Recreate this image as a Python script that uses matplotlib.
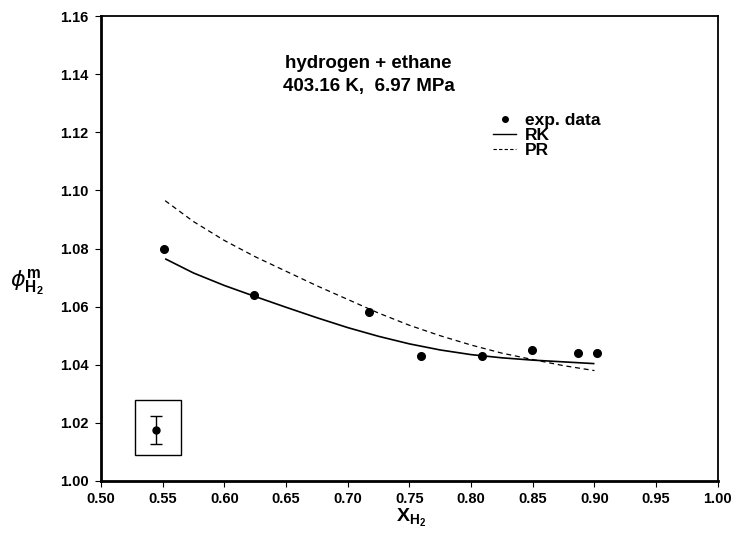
import numpy as np
import matplotlib
matplotlib.use("Agg")
import matplotlib.pyplot as plt
from matplotlib.lines import Line2D
from matplotlib.patches import Rectangle

x_exp = [0.551, 0.624, 0.717, 0.759, 0.809, 0.849, 0.887, 0.902]
phi_exp = [1.080, 1.064, 1.058, 1.043, 1.043, 1.045, 1.044, 1.044]

# Redlich-Kwong curve
x_rk = [0.552, 0.575, 0.600, 0.625, 0.650, 0.675, 0.700, 0.725,
        0.750, 0.775, 0.800, 0.825, 0.850, 0.875, 0.900]
phi_rk = [1.0765, 1.0716, 1.0673, 1.0635, 1.0598, 1.0562, 1.0528, 1.0498,
          1.0472, 1.0451, 1.0435, 1.0424, 1.0416, 1.0410, 1.0404]

# Peng-Robinson curve
x_pr = [0.552, 0.575, 0.600, 0.625, 0.650, 0.675, 0.700, 0.725,
        0.750, 0.775, 0.800, 0.825, 0.850, 0.875, 0.900]
phi_pr = [1.0965, 1.0893, 1.0828, 1.0772, 1.0722, 1.0672, 1.0625, 1.0578,
          1.0536, 1.0500, 1.0468, 1.0440, 1.0418, 1.0397, 1.0380]

# typical uncertainty shown in the inset box
err_x = 0.5446
err_y = 1.0177
err_half = 0.0048

xticks = np.arange(0.50, 1.001, 0.05)
yticks = np.arange(1.00, 1.161, 0.02)

plt.rcParams['font.family'] = ['Liberation Sans', 'DejaVu Sans']
plt.rcParams['mathtext.fontset'] = 'custom'
plt.rcParams['mathtext.rm'] = 'Liberation Sans'
plt.rcParams['mathtext.bf'] = 'Liberation Sans:bold'

fig = plt.figure(figsize=(7.37, 5.33), dpi=100)
ax = fig.add_axes([0.137, 0.0976, 0.837, 0.872])

ax.plot(x_rk, phi_rk, color='black', lw=1.2, solid_capstyle='butt')
ax.plot(x_pr, phi_pr, color='black', lw=0.9, linestyle=(0, (4, 3)))
ax.plot(x_exp, phi_exp, 'o', color='black', ms=5.5)

# inset with error bar
ax.add_patch(Rectangle((0.5272, 1.0088), 0.0373, 0.0190, fill=False,
                       edgecolor='black', lw=1.0))
ax.errorbar([err_x], [err_y], yerr=[err_half], fmt='o', color='black',
            ms=5, capsize=4, elinewidth=1.0, capthick=1.0)

ax.set_xlim(0.50, 1.00)
ax.set_ylim(1.00, 1.16)
ax.set_xticks(xticks)
ax.set_yticks(yticks)
ax.set_xticklabels([f"{v:.2f}" for v in xticks], fontsize=10.5, fontweight='bold')
ax.set_yticklabels([f"{v:.2f}" for v in yticks], fontsize=10.5, fontweight='bold')
ax.tick_params(direction='out', length=4, width=0.8, pad=5, top=False, right=False)
ax.tick_params(axis='x', pad=4)
for side in ['left', 'bottom']:
    ax.spines[side].set_linewidth(2.0)
for side in ['top', 'right']:
    ax.spines[side].set_linewidth(1.3)

ax.text(0.717, 1.1438, "hydrogen + ethane", ha='center', va='center',
        fontsize=13.5, fontweight='bold')
ax.text(0.717, 1.1357, "403.16 K,  6.97 MPa", ha='center', va='center',
        fontsize=13.5, fontweight='bold')

handles = [Line2D([], [], marker='o', color='black', linestyle='none', ms=4),
           Line2D([], [], color='black', lw=1.0),
           Line2D([], [], color='black', lw=0.8, linestyle=(0, (3, 2)))]
leg = ax.legend(handles, ["exp. data", "RK", "PR"], loc='upper left',
                bbox_to_anchor=(0.622, 0.811), frameon=False, fontsize=12.5,
                handlelength=1.3, handletextpad=0.5, labelspacing=0.0,
                borderpad=0)
for t in leg.get_texts():
    t.set_fontweight('bold')

fig.text(396 / 737, 1 - 522 / 533, r"$\mathbf{X}_{\mathbf{H_2}}$",
         fontsize=14, ha='left', va='baseline')
fig.text(0.037, 0.47, r"$\phi^{\mathbf{m}}_{\mathbf{H_2}}$", fontsize=16,
         ha='center', va='center')

fig.savefig("out.png", dpi=100)
